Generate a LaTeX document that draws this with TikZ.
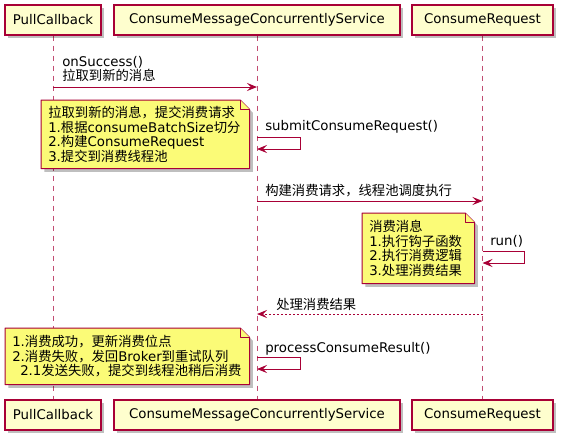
\documentclass[tikz,border=0pt]{standalone}
\usepackage{fontspec}
\setmainfont{DejaVu Sans}
\newfontfamily\zhfont{Noto Sans CJK SC}
\newcommand{\zh}[1]{{\zhfont #1}}
\usetikzlibrary{positioning,arrows.meta,backgrounds,shadows}

\definecolor{umlred}{HTML}{A80036}
\definecolor{umlbox}{HTML}{FEFECE}
\definecolor{umlnote}{HTML}{FBFB77}

% folded-corner outline behind a note node
\newcommand{\dogear}[1]{%
  \begin{scope}[on background layer]
    \draw[notebox, drop shadow={shadow xshift=2.5pt, shadow yshift=-2.5pt, opacity=0.25, fill=black}]
      (#1.north west) -- ([xshift=-7pt]#1.north east) -- ([yshift=-7pt]#1.north east)
      -- (#1.south east) -- (#1.south west) -- cycle;
    \draw[notebox] ([xshift=-7pt]#1.north east) -- ([xshift=-7pt, yshift=-7pt]#1.north east)
      -- ([yshift=-7pt]#1.north east);
  \end{scope}}

\begin{document}
\begin{tikzpicture}[x=0.75pt, y=-0.75pt,
  actor/.style={rectangle, draw=umlred, fill=umlbox, line width=1.1pt, minimum height=22.5pt, inner sep=0pt,
    font=\fontsize{10}{11}\selectfont, drop shadow={shadow xshift=2.5pt, shadow yshift=-2.5pt, opacity=0.25, fill=black}},
  lifeline/.style={umlred!70, line width=0.75pt, dash pattern=on 3.75pt off 3.75pt},
  msg/.style={umlred, line width=0.75pt, -{Stealth[length=7.5pt, width=6pt, inset=3pt]}},
  reply/.style={msg, dash pattern=on 1.5pt off 1.5pt},
  msglabel/.style={inner sep=0pt, align=left, font=\fontsize{10}{10.5}\selectfont},
  note/.style={inner xsep=5.25pt, inner ysep=0pt, align=left, anchor=north west, font=\fontsize{10}{11}\selectfont},
  notebox/.style={draw=umlred, fill=umlnote, line width=0.75pt, line join=round},
]
\useasboundingbox (0, 0) rectangle (565, 444);

% === Participants ===
\node[actor, minimum width=72pt] (pcTop) at (53, 20) {PullCallback};
\node[actor, minimum width=214.5pt] (cmTop) at (257, 20) {ConsumeMessageConcurrentlyService};
\node[actor, minimum width=105.75pt] (crTop) at (482.5, 20) {ConsumeRequest};

\node[actor, minimum width=72pt] (pcBot) at (53, 415) {PullCallback};
\node[actor, minimum width=214.5pt] (cmBot) at (257, 415) {ConsumeMessageConcurrentlyService};
\node[actor, minimum width=105.75pt] (crBot) at (482.5, 415) {ConsumeRequest};

% === Lifelines ===
\begin{scope}[on background layer]
  \draw[lifeline] (pcTop) -- (pcBot);
  \draw[lifeline] (cmTop) -- (cmBot);
  \draw[lifeline] (crTop) -- (crBot);
\end{scope}

% === onSuccess ===
\coordinate (y1) at (0, 87);
\node[msglabel, anchor=south west] (l1) at (62, 82) {onSuccess()\\\zh{拉取到新的消息}};
\draw[msg] (pcTop |- y1) -- (cmTop |- y1);

\node[note, minimum width=156pt, minimum height=51pt, text width=145.5pt] (note1) at (41, 100)
  {\zh{拉取到新的消息，提交消费请求}\\1.\zh{根据}consumeBatchSize\zh{切分}\\2.\zh{构建}ConsumeRequest\\3.\zh{提交到消费线程池}};
\dogear{note1}

% === submitConsumeRequest ===
\coordinate (y2) at (0, 137);
\coordinate (y2b) at (0, 149);
\node[msglabel, anchor=base west] (l2) at (265, 130) {submitConsumeRequest()};
\draw[msg] (cmTop |- y2) -- ++(43, 0) |- (cmTop |- y2b);

% === dispatch to thread pool ===
\coordinate (y3) at (0, 201);
\node[msglabel, anchor=base west] (l3) at (265, 195) {\zh{构建消费请求，线程池调度执行}};
\draw[msg] (cmTop |- y3) -- (crTop |- y3);

\node[note, minimum width=84pt, minimum height=52.5pt, text width=73.5pt] (note2) at (362, 213)
  {\zh{消费消息}\\1.\zh{执行钩子函数}\\2.\zh{执行消费逻辑}\\3.\zh{处理消费结果}};
\dogear{note2}

% === run ===
\coordinate (y4) at (0, 251);
\coordinate (y4b) at (0, 263);
\node[msglabel, anchor=base west] (l4) at (490, 245) {run()};
\draw[msg] (crTop |- y4) -- ++(42, 0) |- (crTop |- y4b);

% === result back ===
\coordinate (y5) at (0, 314);
\node[msglabel, anchor=base west] (l5) at (276, 309) {\zh{处理消费结果}};
\draw[reply] (crTop |- y5) -- (cmTop |- y5);

\node[note, minimum width=183pt, minimum height=42pt, text width=172.5pt] (note3) at (5, 328)
  {1.\zh{消费成功，更新消费位点}\\2.\zh{消费失败，发回}Broker\zh{到重试队列}\\\hspace*{6pt}2.1\zh{发送失败，提交到线程池稍后消费}};
\dogear{note3}

% === processConsumeResult ===
\coordinate (y6) at (0, 357);
\coordinate (y6b) at (0, 369);
\node[msglabel, anchor=base west] (l6) at (265, 352) {processConsumeResult()};
\draw[msg] (cmTop |- y6) -- ++(43, 0) |- (cmTop |- y6b);

\end{tikzpicture}
\end{document}
